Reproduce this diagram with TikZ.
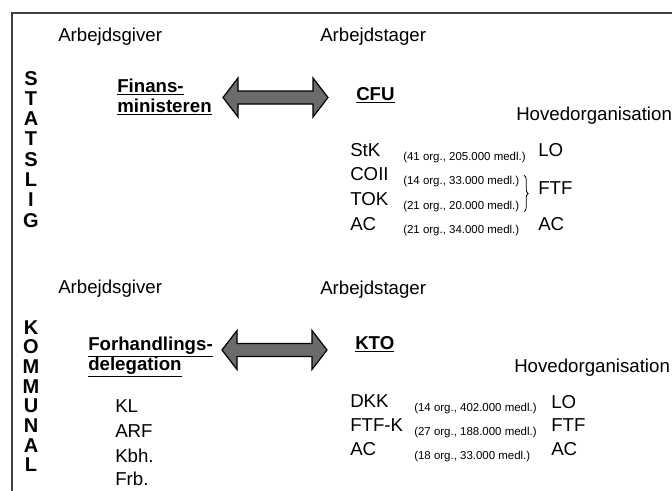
\documentclass[tikz,border=0pt]{standalone}
\usepackage{fontspec}
\setmainfont{Liberation Sans}
\usetikzlibrary{decorations.pathreplacing}
\begin{document}
\begin{tikzpicture}[x=0.75pt,y=-0.75pt,
  lbl/.style={font=\fontsize{14}{16}\selectfont, inner sep=0pt, anchor=base west},
  hd/.style={font=\bfseries\fontsize{14}{16}\selectfont, inner sep=0pt, anchor=base west},
  sm/.style={font=\fontsize{8.6}{10}\selectfont, inner sep=0pt, anchor=base west},
  vert/.style={font=\bfseries\fontsize{15}{17}\selectfont, inner sep=0pt, anchor=base},
  frame/.style={line width=1.6pt, draw=black!75},
  dblarrow/.pic={
    \draw[fill=black!58, draw=black, line width=0.9pt]
      (0,0) -- (15,-19.5) -- (15,-6.5) -- (90,-6.5) -- (90,-19.5) -- (105,0)
      -- (90,19.5) -- (90,6.5) -- (15,6.5) -- (15,19.5) -- cycle;
  }]
\useasboundingbox (0,0) rectangle (672,490);
\draw[frame] (12,492) -- (12,13) -- (674,13);

% ---------- STATSLIG ----------
\node[lbl] (ag1) at (58,41) {Arbejdsgiver};
\node[lbl] (at1) at (320,41) {Arbejdstager};
\foreach \l [count=\i] in {S,T,A,T,S,L,I,G}
  \node[vert] (st\i) at (31,{85+20.3*(\i-1)}) {\l};
\node[hd] (fin1) at (117,92) {\underline{Finans-}};
\node[hd] (fin2) at (117,112) {\underline{ministeren}};
\pic at (223,97.5) {dblarrow};
\node[hd] (cfu) at (356,100) {\underline{CFU}};
\node[lbl] (ho1) at (516,120) {Hovedorganisation};

\node[lbl] (stk) at (350,156) {StK};
\node[lbl] (coii) at (350,180) {COII};
\node[lbl] (tok) at (350,205) {TOK};
\node[lbl] (ac1) at (350,230) {AC};
\node[sm] (n1) at (403,160) {(41 org., 205.000 medl.)};
\node[sm] (n2) at (403,184) {(14 org., 33.000 medl.)};
\node[sm] (n3) at (403,209) {(21 org., 20.000 medl.)};
\node[sm] (n4) at (403,233) {(21 org., 34.000 medl.)};
\draw[line width=0.6pt, decorate, decoration={brace, amplitude=3pt}]
  ([xshift=3.5pt]n2.north east |- n2.north) -- ([xshift=3.5pt]n2.north east |- n3.south);
\node[lbl] (lo1) at (538,156) {LO};
\node[lbl] (ftf1) at (538,194) {FTF};
\node[lbl] (acr1) at (538,230) {AC};

% ---------- KOMMUNAL ----------
\node[lbl] (ag2) at (58,293) {Arbejdsgiver};
\node[lbl] (at2) at (320,294) {Arbejdstager};
\foreach \l [count=\i] in {K,O,M,M,U,N,A,L}
  \node[vert] (ko\i) at (31,{334+19.7*(\i-1)}) {\l};
\node[hd] (fo1) at (88,350) {\underline{Forhandlings-}};
\node[hd] (fo2) at (88,370) {\underline{delegation}};
\pic at (222,350) {dblarrow};
\node[hd] (kto) at (355,349) {\underline{KTO}};
\node[lbl] (ho2) at (514,372) {Hovedorganisation};

\node[lbl] (kl) at (115,412) {KL};
\node[lbl] (arf) at (115,437) {ARF};
\node[lbl] (kbh) at (115,462) {Kbh.};
\node[lbl] (frb) at (115,485) {Frb.};

\node[lbl] (dkk) at (350,407) {DKK};
\node[lbl] (ftfk) at (350,431) {FTF-K};
\node[lbl] (ac2) at (350,455) {AC};
\node[sm] (m1) at (414,411) {(14 org., 402.000 medl.)};
\node[sm] (m2) at (414,435) {(27 org., 188.000 medl.)};
\node[sm] (m3) at (414,459) {(18 org., 33.000 medl.)};
\node[lbl] (lo2) at (551,408) {LO};
\node[lbl] (ftf2) at (551,431) {FTF};
\node[lbl] (acr2) at (551,455) {AC};
\end{tikzpicture}
\end{document}
